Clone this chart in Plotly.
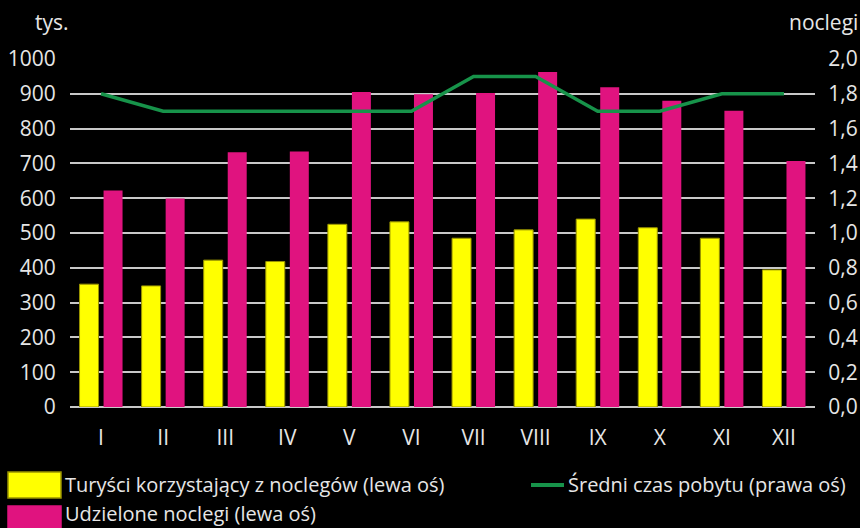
import plotly.graph_objects as go

# --- Dane ---
miesiace = ["I", "II", "III", "IV", "V", "VI", "VII", "VIII", "IX", "X", "XI", "XII"]
turysci = [353, 348, 422, 418, 525, 532, 485, 509, 540, 515, 485, 394]          # tys.
noclegi = [622, 599, 732, 734, 905, 899, 902, 963, 919, 880, 851, 707]          # tys.
sredni_czas = [1.8, 1.7, 1.7, 1.7, 1.7, 1.7, 1.9, 1.9, 1.7, 1.7, 1.8, 1.8]      # noclegi

lewe_ticki = list(range(0, 1001, 100))
prawe_ticki = [i / 10 for i in range(0, 21, 2)]
prawe_etykiety = [f"{v:.1f}".replace(".", ",") for v in prawe_ticki]

ZOLTY = "#ffff00"
MAGENTA = "#e0137f"
ZIELONY = "#17934a"
TEKST = "#e6e6e6"
SIATKA = "#c8c8c8"
FONT = "Open Sans"

fig = go.Figure()

fig.add_trace(go.Bar(
    x=miesiace, y=turysci,
    name="Turyści korzystający z noclegów (lewa oś)",
    marker_color=ZOLTY,
    marker_line_color="#9a9400",
    marker_line_width=1,
))

fig.add_trace(go.Bar(
    x=miesiace, y=noclegi,
    name="Udzielone noclegi (lewa oś)",
    marker_color=MAGENTA,
    marker_line_width=0,
))

fig.add_trace(go.Scatter(
    x=miesiace, y=sredni_czas,
    name="Średni czas pobytu (prawa oś)",
    mode="lines",
    line=dict(color=ZIELONY, width=3.5),
    yaxis="y2",
))

fig.update_layout(
    width=860, height=528,
    paper_bgcolor="black",
    plot_bgcolor="black",
    showlegend=False,
    barmode="group",
    bargap=0.226,
    bargroupgap=0.21,
    margin=dict(l=70, r=45, t=59, b=121),
    font=dict(family=FONT, size=21, color=TEKST),
    xaxis=dict(
        automargin=False,
        showgrid=False, showline=False, zeroline=False,
        ticks="outside", ticklen=12, tickcolor="rgba(0,0,0,0)",
        tickfont=dict(size=21, color=TEKST),
    ),
    yaxis=dict(
        automargin=False,
        range=[0, 1000], tickvals=lewe_ticki,
        showgrid=True, gridcolor=SIATKA, gridwidth=1.5,
        zeroline=True, zerolinecolor=SIATKA, zerolinewidth=2,
        showline=False,
        ticks="outside", ticklen=9, tickcolor="rgba(0,0,0,0)",
        tickfont=dict(size=21, color=TEKST),
    ),
    yaxis2=dict(
        automargin=False,
        range=[0, 2], tickvals=prawe_ticki, ticktext=prawe_etykiety,
        overlaying="y", side="right",
        showgrid=False, zeroline=False, showline=False,
        ticks="outside", ticklen=8, tickcolor="rgba(0,0,0,0)",
        tickfont=dict(size=21, color=TEKST),
    ),
)

# --- przeliczenie pikseli na współrzędne paper ---
def px_x(p):
    return (p - 70) / 745

def px_y(p):
    return (407 - p) / 348

# tytuły osi
fig.add_annotation(text="tys.", xref="paper", yref="paper", x=px_x(33), y=px_y(22),
                   xanchor="left", yanchor="middle", showarrow=False,
                   font=dict(size=21, color=TEKST))
fig.add_annotation(text="noclegi", xref="paper", yref="paper", x=px_x(860), y=px_y(22),
                   xanchor="right", yanchor="middle", showarrow=False,
                   font=dict(size=21, color=TEKST))

# --- Legenda rysowana ręcznie (duże kwadraty) ---
legenda = [
    (ZOLTY, "#9a9400", 8, 472, 61, 498, "Turyści korzystający z noclegów (lewa oś)", 63, 485),
    (MAGENTA, MAGENTA, 8, 506, 61, 532, "Udzielone noclegi (lewa oś)", 63, 513),
]
for kolor, obrys, x0, y0, x1, y1, tekst, tx, ty in legenda:
    fig.add_shape(type="rect", xref="paper", yref="paper",
                  x0=px_x(x0), x1=px_x(x1), y0=px_y(y0), y1=px_y(y1),
                  fillcolor=kolor, line=dict(color=obrys, width=1.5))
    fig.add_annotation(text=tekst, xref="paper", yref="paper", x=px_x(tx), y=px_y(ty),
                       xanchor="left", yanchor="middle", showarrow=False,
                       font=dict(size=20, color=TEKST))

fig.add_shape(type="line", xref="paper", yref="paper",
              x0=px_x(531), x1=px_x(564), y0=px_y(485), y1=px_y(485),
              line=dict(color=ZIELONY, width=4))
fig.add_annotation(text="Średni czas pobytu (prawa oś)", xref="paper", yref="paper",
                   x=px_x(566), y=px_y(485), xanchor="left", yanchor="middle",
                   showarrow=False, font=dict(size=20, color=TEKST))

fig.write_html("out.html", config={"displayModeBar": False},
               post_script="document.body.style.margin='0';")
